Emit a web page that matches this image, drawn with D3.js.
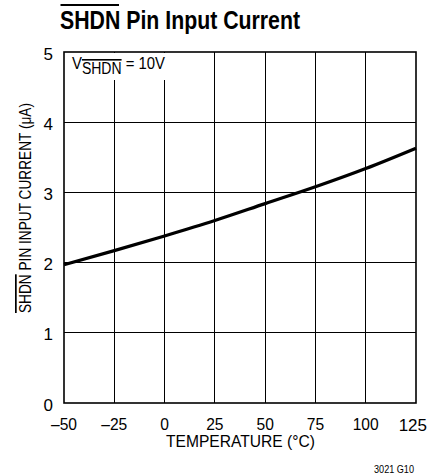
<!doctype html>
<html lang="en">
<head>
<meta charset="utf-8">
<title>SHDN Pin Input Current</title>
<style>
  body { margin: 0; background: #fff; }
  svg text { font-family: "Liberation Sans", Arial, sans-serif; fill: #000; }
  .grid line { stroke: #000; stroke-width: 1px; shape-rendering: crispEdges; }
  .tick-label { font-size: 17px; }
</style>
</head>
<body>
<div id="chart"></div>
<script src="https://cdn.jsdelivr.net/npm/d3@7"></script>
<script>
// values
const temps = [-50, -25, 0, 25, 50, 75, 100, 125];
const current = [1.97, 2.17, 2.38, 2.6, 2.84, 3.08, 3.34, 3.63];
const xTicks = [-50, -25, 0, 25, 50, 75, 100, 125];
const yTicks = [0, 1, 2, 3, 4, 5];

const W = 428, H = 476;
const m = { left: 64, right: 12, top: 52, bottom: 73 };

const svg = d3.select("#chart").append("svg").attr("width", W).attr("height", H);

const x = d3.scaleLinear().domain([-50, 125]).range([m.left, W - m.right]);
const y = d3.scaleLinear().domain([0, 5]).range([H - m.bottom, m.top]);

// title (condensed by squeezing to the reference width), overline drawn over SHDN
svg.append("text").attr("x", 60).attr("y", 29)
  .attr("font-size", 25).attr("font-weight", "bold")
  .attr("textLength", 240).attr("lengthAdjust", "spacingAndGlyphs")
  .text("SHDN Pin Input Current");
svg.append("line").attr("x1", 60.5).attr("x2", 119).attr("y1", 5).attr("y2", 5)
  .attr("stroke", "#000").attr("stroke-width", 2);

// grid
const grid = svg.append("g").attr("class", "grid");
grid.selectAll("line.v").data(xTicks.slice(1, -1)).enter().append("line").attr("class", "v")
  .attr("x1", d => x(d)).attr("x2", d => x(d)).attr("y1", y(5)).attr("y2", y(0));
grid.selectAll("line.h").data(yTicks.slice(1, -1)).enter().append("line").attr("class", "h")
  .attr("x1", x(-50)).attr("x2", x(125)).attr("y1", d => y(d)).attr("y2", d => y(d));

// condition label box (hides grid behind it)
svg.append("rect").attr("x", x(-50) + 1).attr("y", y(5) + 1)
  .attr("width", 104).attr("height", 27).attr("fill", "#fff");
const cond = svg.append("text").attr("x", 72).attr("y", 69).attr("font-size", 17)
  .attr("textLength", 93).attr("lengthAdjust", "spacingAndGlyphs");
cond.append("tspan").text("V");
cond.append("tspan").attr("dy", 5).attr("font-size", 16).attr("text-decoration", "overline").text("SHDN");
cond.append("tspan").attr("dy", -5).text(" = 10V");

// frame
svg.append("rect").attr("x", x(-50)).attr("y", y(5))
  .attr("width", x(125) - x(-50)).attr("height", y(0) - y(5))
  .attr("fill", "none").attr("stroke", "#000").attr("stroke-width", 1.6);

// curve
const pts = temps.map((t, i) => [t, current[i]]);
svg.append("path").datum(pts)
  .attr("fill", "none").attr("stroke", "#000").attr("stroke-width", 3.2)
  .attr("d", d3.line().x(d => x(d[0])).y(d => y(d[1])).curve(d3.curveMonotoneX));

// tick labels
svg.selectAll("text.xt").data(xTicks).enter().append("text").attr("class", "tick-label xt")
  .attr("x", d => d === 125 ? 427 : x(d)).attr("y", y(0) + 27.5)
  .attr("text-anchor", d => d === 125 ? "end" : "middle")
  .attr("transform", d => d === 125 ? null : `translate(${x(d)},0) scale(0.92,1) translate(${-x(d)},0)`)
  .text(d => d < 0 ? "\u2013" + Math.abs(d) : d);
svg.selectAll("text.yt").data(yTicks).enter().append("text").attr("class", "tick-label yt")
  .attr("x", 53).attr("y", d => y(d) + 7.5).attr("text-anchor", "end")
  .text(d => d);

// axis titles
svg.append("text").attr("class", "tick-label").attr("x", 166).attr("y", 447)
  .attr("textLength", 149).attr("lengthAdjust", "spacingAndGlyphs")
  .text("TEMPERATURE (\u00B0C)");

const yl = svg.append("text").attr("class", "tick-label")
  .attr("transform", "translate(31,313) rotate(-90)")
  .attr("textLength", 210).attr("lengthAdjust", "spacingAndGlyphs");
yl.append("tspan").attr("text-decoration", "overline").text("SHDN");
yl.append("tspan").text(" PIN INPUT CURRENT (\u03BCA)");

svg.append("text").attr("x", 374).attr("y", 473)
  .attr("font-size", 11).attr("textLength", 40).attr("lengthAdjust", "spacingAndGlyphs")
  .text("3021 G10");
</script>
</body>
</html>
